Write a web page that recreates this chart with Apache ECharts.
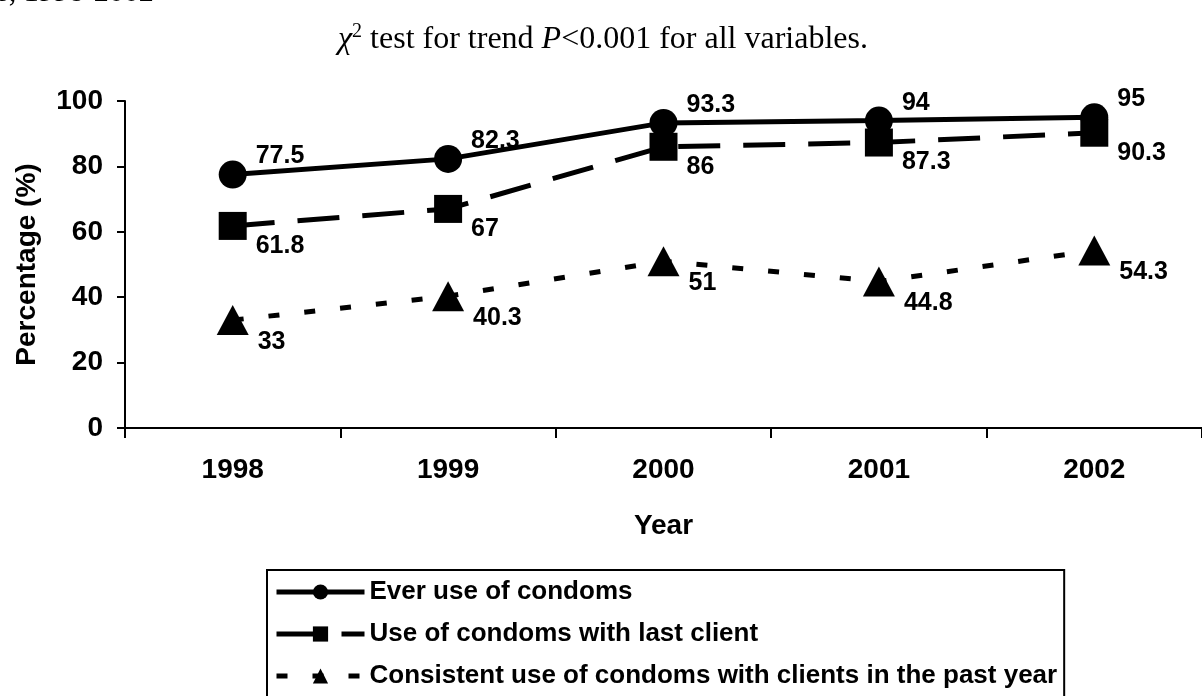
<!DOCTYPE html>
<html>
<head>
<meta charset="utf-8">
<title>Condom use trends</title>
<script src="https://cdn.jsdelivr.net/npm/echarts@6/dist/echarts.min.js"></script>
<style>
  html, body { margin: 0; padding: 0; background: #fff; }
  #chart { width: 1202px; height: 696px; }
</style>
</head>
<body>
<div id="chart"></div>
<script>
// data
const years = ["1998", "1999", "2000", "2001", "2002"];
const everUse = [77.5, 82.3, 93.3, 94, 95];
const lastClient = [61.8, 67, 86, 87.3, 90.3];
const consistentUse = [33, 40.3, 51, 44.8, 54.3];
const seriesNames = [
  "Ever use of condoms",
  "Use of condoms with last client",
  "Consistent use of condoms with clients in the past year",
];
const yMin = 0;
const yMax = 100;
const yStep = 20;

const SANS = "'Liberation Sans', Arial, sans-serif";
const SERIF = "'Liberation Serif', 'Times New Roman', serif";

const chart = echarts.init(document.getElementById("chart"), null, { renderer: "canvas" });

const makeSeries = (name, data, symbol, symbolSize, dash, width, labelDy) => ({
  name,
  type: "line",
  data,
  symbol,
  symbolSize,
  showAllSymbol: true,
  itemStyle: { color: "#000" },
  lineStyle: { color: "#000", width, type: dash },
  label: {
    show: true,
    position: "right",
    distance: 9,
    offset: [0, labelDy],
    color: "#000",
    fontFamily: SANS,
    fontWeight: "bold",
    fontSize: 25,
  },
  emphasis: { disabled: true },
  animation: false,
});

const serifPart = extra => Object.assign(
  { fontFamily: SERIF, fontSize: 32, fontWeight: "normal", color: "#000", lineHeight: 36 },
  extra
);

const option = {
  backgroundColor: "#fff",
  title: {
    left: 333,
    top: 17,
    text: "{chi|χ}{sup|2}{txt| test for trend }{it|P}{txt|<0.001 for all variables.}",
    textStyle: {
      fontWeight: "normal",
      rich: {
        chi: serifPart({ fontStyle: "italic" }),
        sup: serifPart({ fontSize: 20, verticalAlign: "top" }),
        txt: serifPart({}),
        it: serifPart({ fontStyle: "italic" }),
      },
    },
  },
  graphic: [
    {
      type: "text",
      left: -3,
      top: -22,
      style: { text: "s, 1998-2002", font: "30px " + SERIF, fill: "#000" },
    },
  ],
  grid: { left: 125, top: 101, width: 1078, height: 327 },
  legend: {
    orient: "vertical",
    left: 267,
    top: 570,
    height: 300,
    padding: [9, 7, 14, 7],
    borderColor: "#000",
    borderWidth: 2,
    itemWidth: 88,
    itemHeight: 19,
    itemGap: 16,
    selectedMode: false,
    data: seriesNames,
    lineStyle: { width: 5 },
    textStyle: { color: "#000", fontFamily: SANS, fontWeight: "bold", fontSize: 26, lineHeight: 26 },
  },
  xAxis: {
    type: "category",
    data: years,
    boundaryGap: true,
    name: "Year",
    nameLocation: "middle",
    nameGap: 84,
    nameTextStyle: { color: "#000", fontFamily: SANS, fontWeight: "bold", fontSize: 28 },
    axisLine: { lineStyle: { color: "#000", width: 2 } },
    axisTick: { show: true, length: 10, lineStyle: { color: "#000", width: 2 } },
    axisLabel: { color: "#000", fontFamily: SANS, fontWeight: "bold", fontSize: 28, margin: 28 },
    splitLine: { show: false },
  },
  yAxis: {
    type: "value",
    min: yMin,
    max: yMax,
    interval: yStep,
    name: "Percentage (%)",
    nameLocation: "middle",
    nameGap: 84,
    nameRotate: 90,
    nameTextStyle: { color: "#000", fontFamily: SANS, fontWeight: "bold", fontSize: 28 },
    axisLine: { show: true, lineStyle: { color: "#000", width: 2 } },
    axisTick: { show: true, length: 8, lineStyle: { color: "#000", width: 2 } },
    axisLabel: { color: "#000", fontFamily: SANS, fontWeight: "bold", fontSize: 28, margin: 22 },
    splitLine: { show: false },
  },
  series: [
    makeSeries(seriesNames[0], everUse, "circle", 28, "solid", 5, -18),
    makeSeries(seriesNames[1], lastClient, "rect", 28, [42, 23], 5, 20),
    makeSeries(seriesNames[2], consistentUse, "triangle", [32, 30], [11, 25], 5, 22),
  ],
};

chart.setOption(option);
</script>
</body>
</html>
